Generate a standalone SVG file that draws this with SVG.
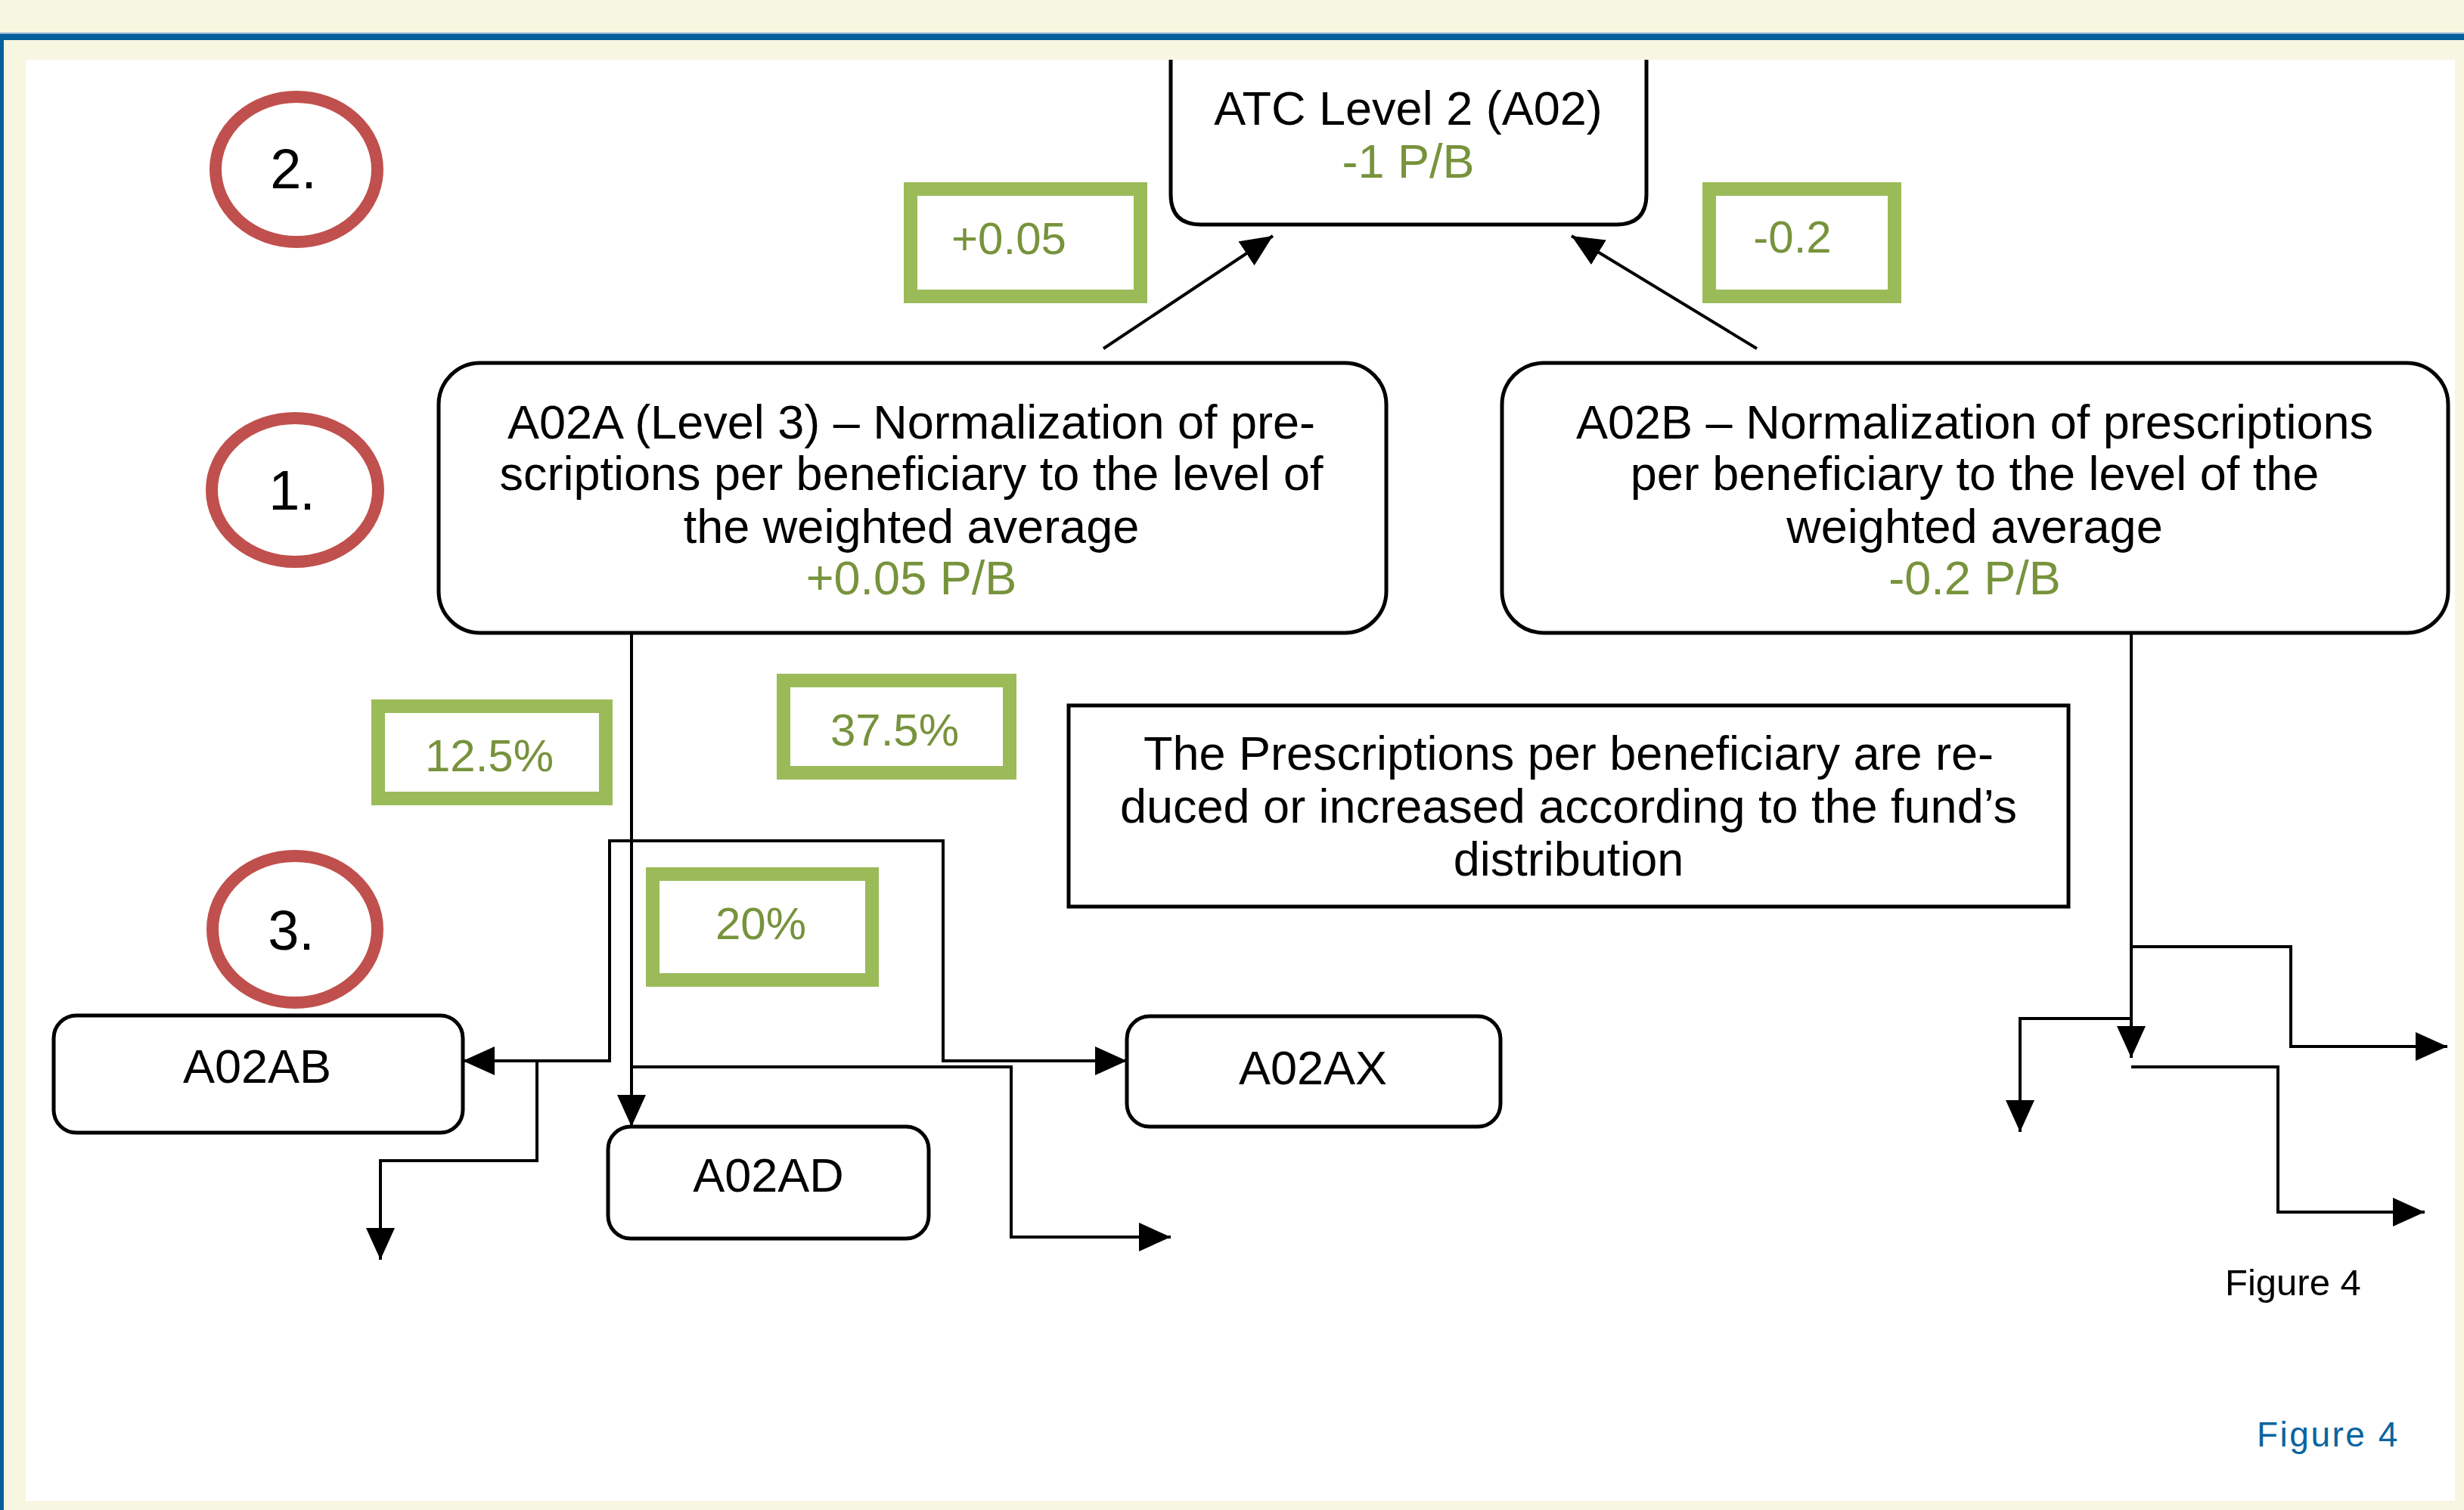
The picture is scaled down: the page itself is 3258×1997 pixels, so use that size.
<svg xmlns="http://www.w3.org/2000/svg" width="3258" height="1997" viewBox="0 0 3258 1997">
<style>
text{font-family:"Liberation Sans",Arial,sans-serif;}
.node{fill:#fff;stroke:#000;stroke-width:5;}
.t{font-size:63px;fill:#000;text-anchor:middle;}
.g{font-size:63px;fill:#77933C;text-anchor:middle;}
.gbox{fill:#fff;stroke:#9BBB59;stroke-width:18;}
.gt{font-size:60px;fill:#77933C;text-anchor:middle;}
.circ{fill:#fff;stroke:#C0504D;stroke-width:16;}
.num{font-size:74px;fill:#000;text-anchor:middle;}
.con{fill:none;stroke:#000;stroke-width:4;}
</style>
<defs>
<marker id="arr" viewBox="0 0 42 38" refX="42" refY="19" markerWidth="42" markerHeight="38" markerUnits="userSpaceOnUse" orient="auto-start-reverse">
<path d="M0,0 L42,19 L0,38 z" fill="#000"/>
</marker>
</defs>
<g id="background">
<rect x="0" y="0" width="3258" height="1997" fill="#F7F6E1"/>
<rect x="0" y="43" width="3258" height="2" fill="#8DB6D3"/>
<rect x="0" y="45" width="3258" height="8" fill="#04609A"/>
<rect x="0" y="45" width="5" height="1952" fill="#04609A"/>
<rect x="34" y="79" width="3212" height="1906" fill="#fff"/>
</g>
<g id="connectors">
<line class="con" x1="1459" y1="461" x2="1683" y2="312" marker-end="url(#arr)"/>
<line class="con" x1="2323" y1="461" x2="2078" y2="312" marker-end="url(#arr)"/>
<path class="con" d="M835 837 V1490" marker-end="url(#arr)"/>
<path class="con" d="M612 1403 H806 V1112 H1247 V1403 H1490" marker-start="url(#arr)" marker-end="url(#arr)"/>
<path class="con" d="M710 1403 V1535 H503 V1666" marker-end="url(#arr)"/>
<path class="con" d="M835 1411 H1337 V1636 H1548" marker-end="url(#arr)"/>
<path class="con" d="M2818 837 V1399" marker-end="url(#arr)"/>
<path class="con" d="M2818 1252 H3029 V1384 H3236" marker-end="url(#arr)"/>
<path class="con" d="M2818 1347 H2671 V1497" marker-end="url(#arr)"/>
<path class="con" d="M2818 1411 H3012 V1603 H3206" marker-end="url(#arr)"/>
</g>
<g id="atc">
<path class="node" d="M1548 79 V257 Q1548 297 1588 297 H2137 Q2177 297 2177 257 V79"/>
<text class="t" x="1862" y="165">ATC Level 2 (A02)</text>
<text class="g" x="1862" y="235">-1 P/B</text>
</g>
<g id="lbl-plus005">
<rect class="gbox" x="1204" y="250" width="304" height="142"/>
<text class="gt" x="1334" y="336">+0.05</text>
</g>
<g id="lbl-minus02">
<rect class="gbox" x="2260" y="250" width="245" height="142"/>
<text class="gt" x="2370" y="334">-0.2</text>
</g>
<g id="a02a">
<rect class="node" x="580" y="480" width="1253" height="357" rx="55"/>
<text class="t" x="1205" y="580">A02A (Level 3) – Normalization of pre-</text>
<text class="t" x="1205" y="648">scriptions per beneficiary to the level of</text>
<text class="t" x="1205" y="718">the weighted average</text>
<text class="g" x="1205" y="786">+0.05 P/B</text>
</g>
<g id="a02b">
<rect class="node" x="1986" y="480" width="1251" height="357" rx="55"/>
<text class="t" x="2611" y="580">A02B – Normalization of prescriptions</text>
<text class="t" x="2611" y="648">per beneficiary to the level of the</text>
<text class="t" x="2611" y="718">weighted average</text>
<text class="g" x="2611" y="786">-0.2 P/B</text>
</g>
<g id="circle2">
<ellipse class="circ" cx="392" cy="224" rx="107" ry="96"/>
<text class="num" x="388" y="249">2.</text>
</g>
<g id="circle1">
<ellipse class="circ" cx="390" cy="648" rx="110" ry="95"/>
<text class="num" x="386" y="674">1.</text>
</g>
<g id="circle3">
<ellipse class="circ" cx="390" cy="1229" rx="109" ry="97"/>
<text class="num" x="385" y="1256">3.</text>
</g>
<g id="lbl-125">
<rect class="gbox" x="500" y="934" width="301" height="122"/>
<text class="gt" x="647" y="1020">12.5%</text>
</g>
<g id="lbl-375">
<rect class="gbox" x="1036" y="900" width="299" height="122"/>
<text class="gt" x="1183" y="986">37.5%</text>
</g>
<g id="lbl-20">
<rect class="gbox" x="863" y="1156" width="290" height="140"/>
<text class="gt" x="1006" y="1242">20%</text>
</g>
<g id="note">
<rect x="1413" y="933" width="1322" height="266" fill="#fff" stroke="#000" stroke-width="5"/>
<text class="t" x="2074" y="1018">The Prescriptions per beneficiary are re-</text>
<text class="t" x="2074" y="1088">duced or increased according to the fund’s</text>
<text class="t" x="2074" y="1158">distribution</text>
</g>
<g id="a02ab">
<rect class="node" x="71" y="1343" width="541" height="155" rx="30"/>
<text class="t" x="340" y="1432">A02AB</text>
</g>
<g id="a02ad">
<rect class="node" x="804" y="1490" width="424" height="148" rx="30"/>
<text class="t" x="1016" y="1576">A02AD</text>
</g>
<g id="a02ax">
<rect class="node" x="1490" y="1344" width="494" height="146" rx="30"/>
<text class="t" x="1736" y="1434">A02AX</text>
</g>
<g id="captions">
<text x="2942" y="1713" font-size="49" fill="#000">Figure 4</text>
<text x="2984" y="1913" font-size="46" letter-spacing="2.5" fill="#0A64A0">Figure 4</text>
</g>
</svg>
